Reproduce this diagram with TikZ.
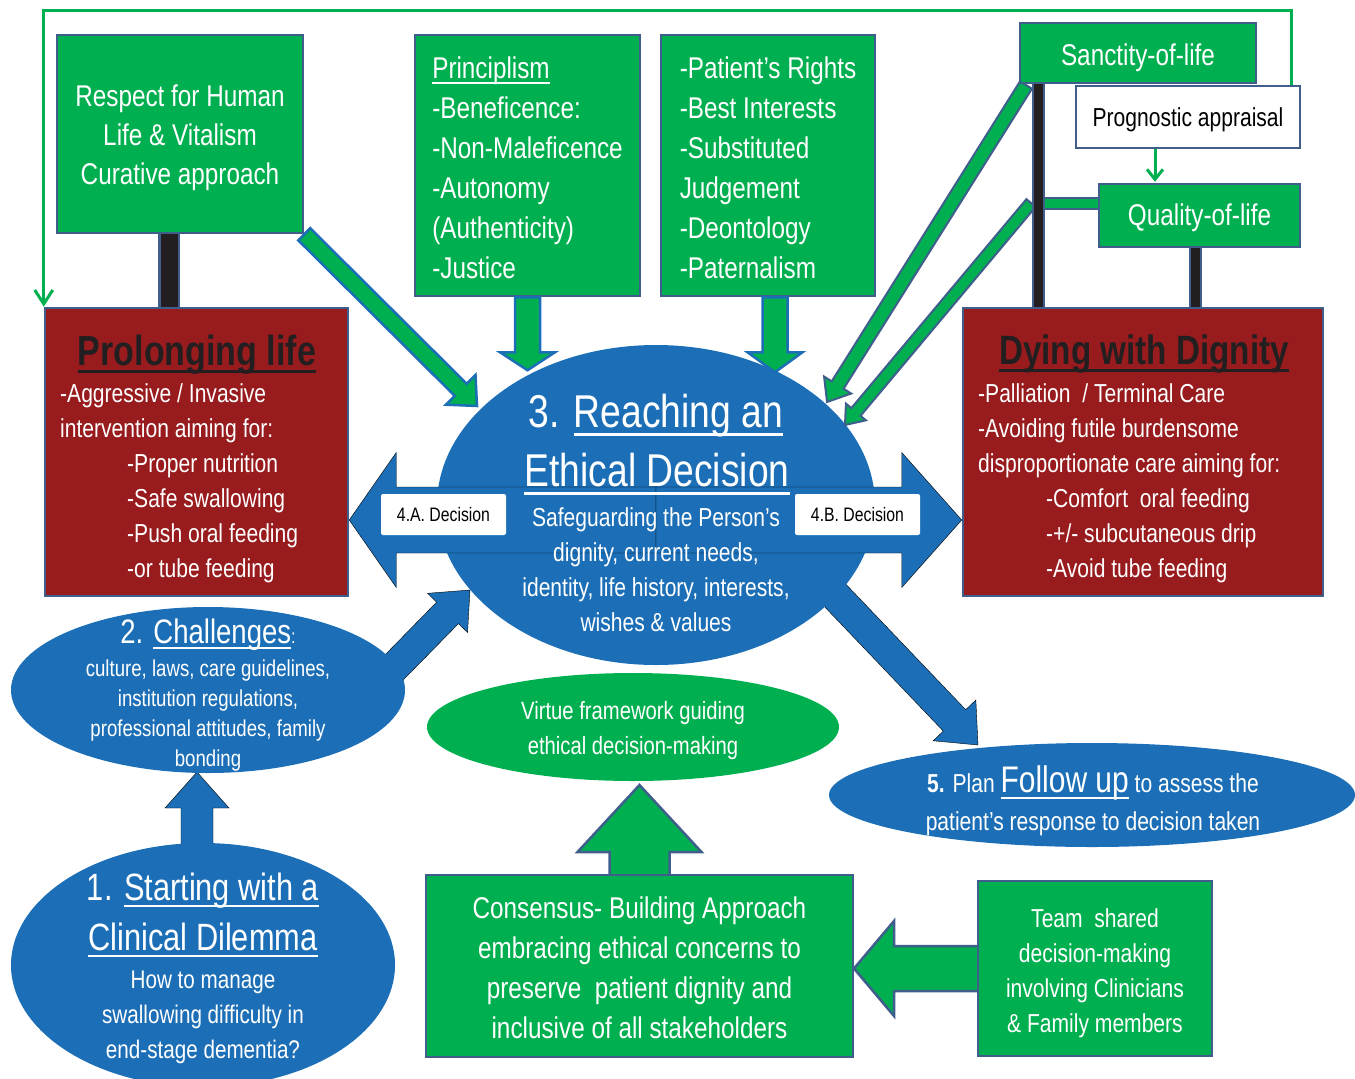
\documentclass[tikz,border=0pt]{standalone}
\usepackage{fontspec}
\setmainfont{Liberation Sans}[FakeStretch=0.81]
\usetikzlibrary{arrows.meta,calc,shapes.geometric}
\definecolor{gr}{HTML}{00B050}
\definecolor{bl}{HTML}{1C6FB7}
\definecolor{dred}{HTML}{981B1E}
\definecolor{edge}{HTML}{3F5E8C}
\definecolor{blk}{HTML}{231F20}
\newcommand\fsz[2]{\fontsize{#1}{#2}\selectfont}
\newcommand\tstrut{\rule[-0.212em]{0pt}{1.117em}}
\newcommand\hs[1]{\rule{0pt}{#1pt}}
\newsavebox\ulnbox
\newcommand\uln[1]{\sbox\ulnbox{#1}\rlap{\rule[-0.19em]{\wd\ulnbox}{0.065em}}\usebox\ulnbox}
\makeatletter
\newcommand\blockarrow[6]{%
  \pgfpointdiff{\pgfpointanchor{#2}{center}}{\pgfpointanchor{#3}{center}}%
  \edef\ba@dx{\the\pgf@x}\edef\ba@dy{\the\pgf@y}%
  \pgfmathsetmacro\ba@len{veclen(\ba@dx,\ba@dy)}%
  \pgfmathsetmacro\ba@ang{atan2(\ba@dy,\ba@dx)}%
  \pgfmathsetmacro\ba@base{\ba@len-#6}%
  \draw[#1,shift={(#2)},rotate=\ba@ang] (0,-#4) -- (\ba@base,-#4) -- (\ba@base,-#5) -- (\ba@len,0) -- (\ba@base,#5) -- (\ba@base,#4) -- (0,#4) -- cycle;
}
\makeatother
\tikzset{
  struts/.style={execute at begin node=\tstrut, execute at end node=\tstrut},
  box/.style={draw=edge, line width=2.5pt, inner sep=0pt, align=center},
  gbox/.style={box, fill=gr, text=white},
  rbox/.style={box, fill=dred},
  wt/.style={text=white, inner sep=0pt, align=center},
  bar/.style={draw=edge, line width=2.2pt, double=#1},
  gline/.style={draw=gr, line width=3pt},
  garrow/.style={fill=gr, draw=bl, line width=2.5pt},
  sarrow/.style={fill=gr, draw=edge, line width=2pt},
  gbig/.style={fill=gr, draw=edge, line width=2.5pt},
  barrow/.style={fill=bl},
  ell/.style={ellipse, inner sep=0pt},
  lbl/.style={fill=white, rounded corners=2pt, inner sep=0pt, text=black, font=\fsz{19.5}{22}, struts}
}
\begin{document}
\begin{tikzpicture}[x=1pt,y=-1pt]
\useasboundingbox (0,0) rectangle (1355,1079);

% ---------- top boxes
\node[gbox, minimum width=246, minimum height=198, font=\fsz{30}{39}] (respect) at (180,134) {\hs{30}Respect for Human\\Life \& Vitalism\\Curative approach};
\node[gbox, minimum width=225, minimum height=261, align=left, font=\fsz{30}{40}] (princ) at (527.5,165.5) {\hs{26}\uln{Principlism}\\-Beneficence:\\-Non-Maleficence\\-Autonomy\\(Authenticity)\\-Justice};
\node[gbox, minimum width=214, minimum height=261, align=left, font=\fsz{30}{40}] (rights) at (768,165.5) {\hs{26}-Patient’s Rights\\-Best Interests\\-Substituted\\Judgement\\-Deontology\\-Paternalism};

% ---------- red boxes
\node[rbox, minimum width=303, minimum height=288] (prolong) at (196.5,452) {};
\node[rbox, minimum width=360, minimum height=288] (dying) at (1143,452) {};
\node[anchor=base, inner sep=0pt, text=blk, font=\bfseries\fsz{42}{48}] (prolongT) at (197,365) {\uln{Prolonging life}};
\node[anchor=base, inner sep=0pt, text=blk, font=\bfseries\fsz{41}{48}] (dyingT) at (1144,364) {\uln{Dying with Dignity}};
\node[anchor=north west, inner sep=0pt, text=white, align=left, font=\fsz{26}{35}] (prolongB) at (60,383) {-Aggressive / Invasive\\intervention aiming for:\\\hspace*{67pt}-Proper nutrition\\\hspace*{67pt}-Safe swallowing\\\hspace*{67pt}-Push oral feeding\\\hspace*{67pt}-or tube feeding};
\node[anchor=north west, inner sep=0pt, text=white, align=left, font=\fsz{26}{35}] (dyingB) at (978,383) {-Palliation\ \ / Terminal Care\\-Avoiding futile burdensome\\disproportionate care aiming for:\\\hspace*{68pt}-Comfort\ \ oral feeding\\\hspace*{68pt}-+/- subcutaneous drip\\\hspace*{68pt}-Avoid tube feeding};

% ---------- blue arrows
\coordinate (s12) at (197,850);
\coordinate (a12) at (197,772);
\blockarrow{barrow}{s12}{a12}{16}{32}{36}
\coordinate (c1) at (372,690);
\coordinate (c2) at (470,590);
\blockarrow{barrow}{c1}{c2}{15.3}{28}{32}
\coordinate (f1) at (830,590);
\coordinate (f2) at (978,745);
\blockarrow{barrow}{f1}{f2}{15.5}{29.5}{34}

% ---------- ellipses
\node[ell, fill=bl, minimum width=438, minimum height=320] (cell) at (656,505) {};
\node[ell, fill=bl, minimum width=394, minimum height=166] (chal) at (208,690) {};
\node[ell, fill=bl, minimum width=384, minimum height=244] (start) at (203,965) {};
\node[ell, fill=gr, minimum width=412, minimum height=108, text=white, align=center, font=\fsz{25}{35}] (virt) at (633,727) {\hs{26}Virtue framework guiding\\ethical decision-making};
\node[ell, fill=bl, minimum width=526, minimum height=104] (follow) at (1092,795) {};

% ---------- double arrow
\coordinate (dc) at (656,520);
\coordinate (dl) at (dc -| prolong.east);
\coordinate (dr) at (dc -| dying.west);
\blockarrow{barrow}{dc}{dl}{33}{67.5}{47}
\blockarrow{barrow}{dc}{dr}{33}{67.5}{60}
\node[lbl, minimum width=125, minimum height=41] (la) at (443.5,514.5) {4.A. Decision};
\node[lbl, minimum width=125, minimum height=41] (lb) at (857.5,514.5) {4.B. Decision};

% ---------- ellipse texts
\node[wt, anchor=base, font=\fsz{46}{58}] (ct1) at (656,427) {3. \uln{Reaching an}};
\node[wt, anchor=base, font=\fsz{46}{58}] (ct2) at (657,486) {\uln{Ethical Decision}};
\node[wt, anchor=north, font=\fsz{26}{35}] (cb) at (656,507) {Safeguarding the Person’s\\dignity, current needs,\\identity, life history, interests,\\wishes \& values};
\node[wt, anchor=base, font=\fsz{34}{40}] (chT) at (208,643) {2. \uln{Challenges}{\fsz{20}{24}:}};
\node[wt, anchor=north, font=\fsz{23}{30}] (chB) at (208,660) {culture, laws, care guidelines,\\institution regulations,\\professional attitudes, family\\bonding};
\node[wt, anchor=base, font=\fsz{38}{50}] (stT1) at (203,900) {1. \uln{Starting with a}};
\node[wt, anchor=base, font=\fsz{38}{50}] (stT2) at (203,950) {\uln{Clinical Dilemma}};
\node[wt, anchor=north, font=\fsz{25.5}{35}] (stB) at (203,971) {How to manage\\swallowing difficulty in\\end-stage dementia?};
\node[wt, anchor=base, font=\fsz{26}{35}] (fu1) at (1093,792) {\textbf{5.} Plan {\fsz{37}{40}\uln{Follow up}} to assess the};
\node[wt, anchor=base, font=\fsz{26}{35}] (fu2) at (1093,830) {patient’s response to decision taken};

% ---------- green arrows from the top
\coordinate (ra1) at (respect.south east);
\coordinate (ra2) at (477,406);
\blockarrow{garrow}{ra1}{ra2}{8.5}{21}{23}
\coordinate (pa1) at (princ.south);
\coordinate (pa2) at ([yshift=-73pt]princ.south);
\blockarrow{garrow}{pa1}{pa2}{12.5}{27.5}{18}
\coordinate (rt1) at ([xshift=7pt]rights.south);
\coordinate (rt2) at ([yshift=-75pt]rt1);
\blockarrow{garrow}{rt1}{rt2}{12.5}{27.5}{20}
\coordinate (s1a) at (1026,85);
\coordinate (s1b) at (827,402);
\blockarrow{sarrow}{s1a}{s1b}{7}{16}{20}
\coordinate (s2a) at (1031,203);
\coordinate (s2b) at (845,425);
\blockarrow{sarrow}{s2a}{s2b}{6}{13}{17}

% ---------- right top boxes
\node[gbox, minimum width=236, minimum height=60, font=\fsz{30}{36}] (sanct) at (1138,53) {\hs{32}Sanctity-of-life};
\node[box, fill=white, minimum width=224, minimum height=62, font=\fsz{26}{30}, text=black, struts] (prog) at (1188,117) {Prognostic appraisal};
\node[gbox, minimum width=201, minimum height=63, font=\fsz{30}{36}, struts] (qual) at (1199.5,215.5) {Quality-of-life};
\coordinate (pq) at (1155,0);
\draw[gline, -{Straight Barb[length=10pt,width=16pt]}] (prog.south -| pq) -- ([yshift=1pt]qual.north -| pq);

% ---------- frame line
\coordinate (fs) at ([xshift=-10pt]prog.north east);
\coordinate (ftop) at (0,10);
\draw[gline, -{Straight Barb[length=14pt,width=18pt]}] (fs) -- (fs |- ftop) -- (prolong.north west |- ftop) -- (prolong.north west);

% ---------- bars
\coordinate (rb) at ([xshift=-11pt]respect.south);
\draw[bar=blk, double distance=17pt] (rb) -- (rb |- prolong.north);
\coordinate (sb) at ([xshift=-99.5pt]sanct.south);
\draw[bar=blk, double distance=9pt] (sb) -- (sb |- dying.north);
\coordinate (qb) at ([xshift=-4pt]qual.south);
\draw[bar=blk, double distance=9pt] (qb) -- (qb |- dying.north);
\coordinate (gb) at (1045,203.5);
\draw[bar=gr, double distance=9pt] (gb) -- (gb -| qual.west);

% ---------- bottom
\coordinate (cn) at (639.5,878);
\coordinate (cv) at (639.5,785);
\blockarrow{gbig}{cn}{cv}{30}{62}{67}
\coordinate (tw) at (980,968.5);
\coordinate (tc) at (854,968.5);
\blockarrow{gbig}{tw}{tc}{22.5}{47.5}{40}
\node[gbox, minimum width=427, minimum height=182, font=\fsz{30}{40}] (cons) at (639.5,966) {\hs{26}Consensus- Building Approach\\embracing ethical concerns to\\preserve\ \ patient dignity and\\inclusive of all stakeholders};
\node[gbox, minimum width=234, minimum height=175, font=\fsz{26}{35}] (team) at (1095,968.5) {\hs{29}Team\ \ shared\\decision-making\\involving Clinicians\\\& Family members};
\end{tikzpicture}
\end{document}
